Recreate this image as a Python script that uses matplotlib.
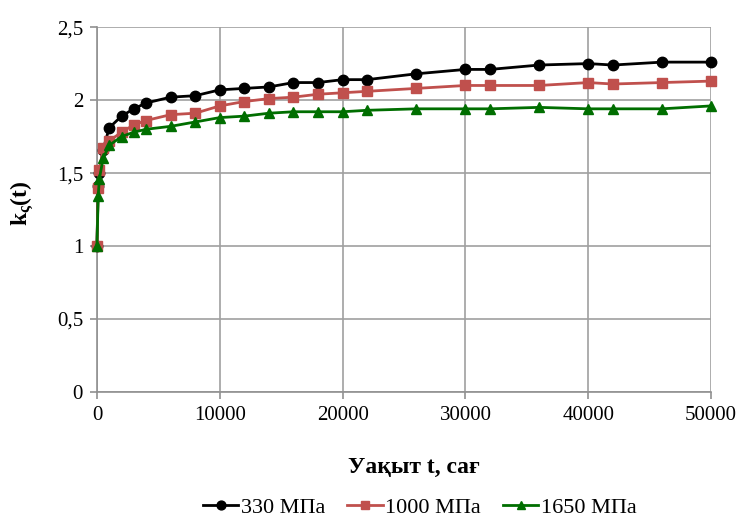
import matplotlib
matplotlib.use("Agg")
import matplotlib.pyplot as plt
from matplotlib.ticker import FuncFormatter

# Time, hours
t = [0, 100, 200, 500, 1000, 2000, 3000, 4000, 6000, 8000, 10000, 12000,
     14000, 16000, 18000, 20000, 22000, 26000, 30000, 32000, 36000, 40000,
     42000, 46000, 50000]

k_330 = [1.00, 1.41, 1.50, 1.66, 1.81, 1.89, 1.94, 1.98, 2.02, 2.03, 2.07,
         2.08, 2.09, 2.12, 2.12, 2.14, 2.14, 2.18, 2.21, 2.21, 2.24, 2.25,
         2.24, 2.26, 2.26]
k_1000 = [1.00, 1.40, 1.52, 1.67, 1.72, 1.78, 1.83, 1.86, 1.90, 1.91, 1.96,
          1.99, 2.01, 2.02, 2.04, 2.05, 2.06, 2.08, 2.10, 2.10, 2.10, 2.12,
          2.11, 2.12, 2.13]
k_1650 = [1.00, 1.34, 1.46, 1.60, 1.69, 1.75, 1.78, 1.80, 1.82, 1.85, 1.88,
          1.89, 1.91, 1.92, 1.92, 1.92, 1.93, 1.94, 1.94, 1.94, 1.95, 1.94,
          1.94, 1.94, 1.96]

labels = ["330 МПа", "1000 МПа", "1650 МПа"]

plt.rcParams["font.family"] = ["Liberation Serif", "DejaVu Serif"]
plt.rcParams["mathtext.fontset"] = "custom"
plt.rcParams["mathtext.rm"] = "Liberation Serif"
plt.rcParams["mathtext.bf"] = "Liberation Serif:bold"
plt.rcParams["mathtext.it"] = "Liberation Serif:italic"

fig = plt.figure(figsize=(7.4, 5.21), dpi=100)
ax = fig.add_axes([0.131, 0.2476, 0.830, 0.7004])

styles = [("#000000", "o"), ("#C0504D", "s"), ("#006E00", "^")]
for i, (ys, (c, m)) in enumerate(zip([k_330, k_1000, k_1650], styles)):
    ax.plot(t, ys, color=c, lw=2.0, marker=m, ms=7.5, label=labels[i],
            zorder=3 + i, clip_on=False)

ax.set_xlim(0, 50000)
ax.set_ylim(0, 2.5)
ax.set_xticks(range(0, 50001, 10000))
ax.set_yticks([0, 0.5, 1, 1.5, 2, 2.5])
ax.yaxis.set_major_formatter(FuncFormatter(lambda v, p: f"{v:g}".replace(".", ",")))
ax.grid(True, color="#A0A0A0", lw=1.2)
ax.set_axisbelow(True)
for s in ["top", "right"]:
    ax.spines[s].set_visible(False)
for s in ["left", "bottom"]:
    ax.spines[s].set_color("#909090")
    ax.spines[s].set_linewidth(1.2)
ax.tick_params(axis="both", colors="#909090", labelcolor="black", labelsize=15,
               length=5, width=1.2)
ax.tick_params(axis="x", pad=5)
ax.tick_params(axis="y", pad=5)

fig.text(414 / 740, 1 - 467 / 521, "Уақыт t, сағ", fontsize=17,
         fontweight="bold", ha="center", va="center")
fig.text(22 / 740, 1 - 203 / 521, r"$\mathbf{k_{\varsigma}(t)}$", fontsize=17,
         rotation=90, ha="center", va="center")

fig.legend(loc="center", bbox_to_anchor=(0.567, 0.025), ncol=3, frameon=False,
           fontsize=16, handlelength=1.6, columnspacing=1.0, handletextpad=0.1,
           markerscale=0.85)

fig.savefig("out.png", dpi=100)
